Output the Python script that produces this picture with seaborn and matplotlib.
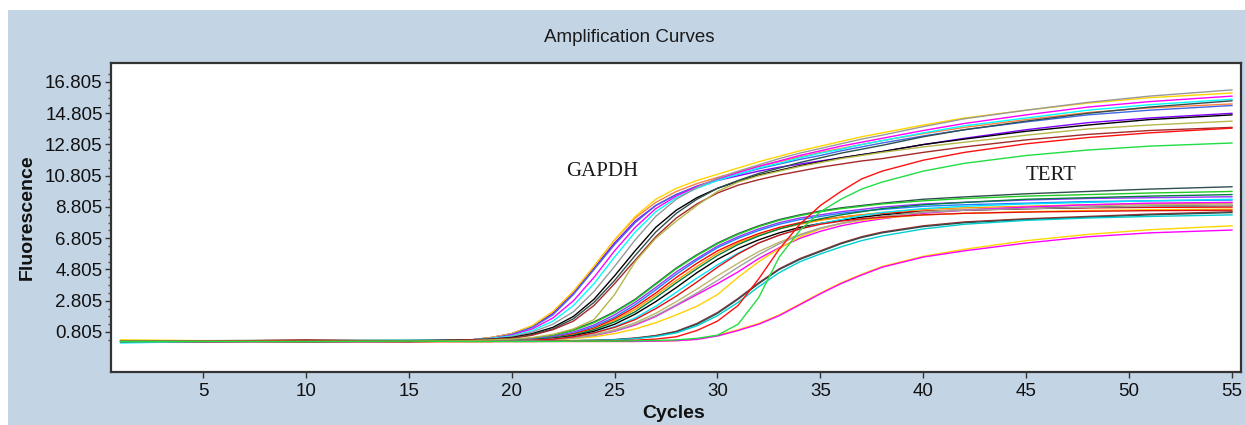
import matplotlib
matplotlib.use("Agg")
import matplotlib.pyplot as plt
from matplotlib.patches import Rectangle
from matplotlib.ticker import FixedLocator
import seaborn as sns
import pandas as pd

# ---------------- data ----------------
CYCLES = [1, 5, 10, 15, 18, 19, 20, 21, 22, 23, 24, 25, 26, 27, 28, 29, 30,
          31, 32, 33, 34, 35, 36, 37, 38, 40, 42, 45, 48, 51, 55]

# GAPDH wells
G_orange = [0.25,0.22,0.2,0.25, 0.3,0.45,0.7,1.2,2.1,3.4,5.0,6.7,8.1,9.1,9.8,10.3,10.7,11.05,11.4,11.7,12.0,12.3,12.55,12.8,13.05,13.5,13.9,14.4,14.85,15.15,15.4]
G_purple = [0.2,0.2,0.22,0.25, 0.3,0.45,0.7,1.15,2.0,3.3,4.9,6.5,7.9,8.9,9.6,10.1,10.5,10.8,11.1,11.35,11.55,11.75,11.95,12.15,12.35,12.8,13.2,13.75,14.2,14.5,14.8]
G_yellow = [0.3,0.25,0.22,0.25, 0.3,0.45,0.7,1.2,2.1,3.4,5.0,6.7,8.2,9.3,10.0,10.5,10.9,11.3,11.7,12.05,12.4,12.7,13.0,13.3,13.55,14.05,14.5,15.0,15.45,15.8,16.1]
G_blue = [0.2,0.25,0.2,0.22, 0.3,0.4,0.65,1.1,1.9,3.2,4.8,6.4,7.8,8.9,9.6,10.15,10.55,10.9,11.25,11.55,11.85,12.1,12.4,12.65,12.9,13.35,13.75,14.25,14.7,15.0,15.3]
G_magenta = [0.22,0.2,0.25,0.2, 0.3,0.4,0.6,1.0,1.7,2.8,4.3,6.0,7.5,8.7,9.5,10.1,10.6,11.0,11.4,11.75,12.1,12.4,12.7,12.95,13.2,13.7,14.15,14.7,15.2,15.55,15.9]
G_cyan = [0.1,0.2,0.25,0.3, 0.3,0.4,0.55,0.9,1.5,2.5,3.9,5.6,7.2,8.5,9.4,10.0,10.5,10.9,11.3,11.6,11.95,12.25,12.5,12.8,13.05,13.55,14.0,14.5,15.0,15.35,15.7]
G_gray = [0.25,0.25,0.3,0.28, 0.3,0.35,0.5,0.8,1.3,2.1,3.4,5.0,6.7,8.2,9.3,10.05,10.65,11.1,11.5,11.9,12.25,12.55,12.85,13.15,13.4,13.95,14.45,15.0,15.5,15.9,16.3]
G_black = [0.2,0.22,0.2,0.22, 0.3,0.35,0.45,0.7,1.1,1.8,2.9,4.4,6.0,7.5,8.6,9.4,10.0,10.45,10.85,11.15,11.45,11.7,11.95,12.15,12.35,12.8,13.15,13.65,14.05,14.4,14.7]
G_dslate = [0.22,0.2,0.22,0.25, 0.3,0.33,0.4,0.65,1.0,1.65,2.7,4.1,5.7,7.2,8.4,9.3,10.0,10.5,10.95,11.3,11.65,11.95,12.25,12.5,12.75,13.3,13.75,14.3,14.8,15.2,15.6]
G_brown = [0.2,0.2,0.3,0.2, 0.3,0.33,0.4,0.6,0.95,1.5,2.5,3.9,5.4,6.9,8.1,9.0,9.7,10.2,10.55,10.85,11.1,11.35,11.55,11.75,11.9,12.3,12.65,13.1,13.45,13.7,13.9]
G_olive = [0.22,0.22,0.2,0.22, 0.25,0.3,0.35,0.45,0.65,1.0,1.6,3.2,5.3,6.8,7.9,8.9,9.8,10.4,10.8,11.1,11.4,11.65,11.9,12.1,12.3,12.65,12.95,13.4,13.8,14.05,14.3]
G_red_late = [0.2,0.2,0.22,0.2, 0.2,0.2,0.2,0.2,0.22,0.22,0.22,0.24,0.28,0.35, 0.5,0.9,1.5,2.5,4.2,6.1,7.7,8.9,9.8,10.6,11.1,11.8,12.3,12.85,13.25,13.55,13.85]
G_green_late = [0.2,0.2,0.2,0.22, 0.2,0.2,0.2,0.2,0.2,0.22,0.22,0.22,0.24,0.26, 0.3,0.4,0.6,1.3,3.0,5.6,7.3,8.5,9.3,9.95,10.4,11.1,11.6,12.1,12.45,12.7,12.9]

# TERT wells
T_dslate = [0.2,0.22,0.2,0.2, 0.25,0.25,0.3,0.4,0.6,0.95,1.45,2.1,2.9,3.9,4.9,5.75,6.5,7.1,7.6,8.0,8.3,8.55,8.75,8.9,9.05,9.3,9.45,9.65,9.8,9.95,10.1]
T_green = [0.25,0.2,0.22,0.2, 0.25,0.25,0.3,0.4,0.55,0.9,1.4,2.05,2.85,3.85,4.85,5.7,6.45,7.05,7.55,7.95,8.25,8.5,8.7,8.85,9.0,9.2,9.35,9.5,9.6,9.7,9.8]
T_purple = [0.2,0.2,0.2,0.22, 0.25,0.25,0.3,0.35,0.5,0.8,1.25,1.9,2.7,3.65,4.65,5.5,6.3,6.9,7.4,7.8,8.1,8.3,8.5,8.65,8.8,9.0,9.1,9.25,9.35,9.4,9.46]
T_blue = [0.2,0.22,0.25,0.22, 0.25,0.25,0.28,0.33,0.45,0.72,1.15,1.75,2.55,3.5,4.5,5.4,6.2,6.8,7.3,7.7,8.0,8.2,8.4,8.55,8.65,8.85,8.95,9.05,9.15,9.2,9.25]
T_red = [0.15,0.2,0.18,0.2, 0.2,0.2,0.25,0.3,0.42,0.68,1.05,1.65,2.4,3.3,4.3,5.2,6.0,6.6,7.1,7.5,7.8,8.0,8.15,8.3,8.4,8.55,8.62,8.7,8.75,8.78,8.8]
T_orange = [0.2,0.2,0.2,0.2, 0.2,0.2,0.25,0.3,0.4,0.62,0.98,1.55,2.25,3.15,4.1,5.0,5.85,6.5,7.0,7.4,7.7,7.95,8.15,8.3,8.45,8.65,8.75,8.85,8.95,9.0,9.05]
T_dgreen = [0.22,0.2,0.2,0.22, 0.25,0.25,0.28,0.32,0.42,0.6,0.95,1.45,2.1,3.0,3.95,4.85,5.7,6.4,6.95,7.4,7.75,8.05,8.3,8.5,8.7,8.95,9.1,9.3,9.4,9.5,9.6]
T_black = [0.2,0.2,0.22,0.2, 0.22,0.22,0.25,0.3,0.38,0.55,0.85,1.3,1.95,2.75,3.65,4.6,5.45,6.15,6.7,7.15,7.5,7.75,7.95,8.15,8.3,8.5,8.6,8.7,8.78,8.85,8.9]
T_cyan = [0.15,0.2,0.2,0.22, 0.25,0.25,0.27,0.3,0.36,0.5,0.75,1.15,1.7,2.45,3.35,4.25,5.1,5.85,6.5,7.0,7.4,7.75,8.0,8.25,8.45,8.7,8.85,9.0,9.1,9.2,9.3]
T_olive = [0.2,0.22,0.2,0.2, 0.22,0.22,0.24,0.27,0.33,0.45,0.65,0.95,1.4,2.0,2.75,3.55,4.4,5.2,5.95,6.55,7.05,7.45,7.75,8.0,8.2,8.5,8.65,8.8,8.9,8.95,9.0]
T_magenta = [0.2,0.2,0.2,0.2, 0.22,0.22,0.24,0.27,0.32,0.42,0.58,0.85,1.25,1.8,2.5,3.2,3.9,4.65,5.5,6.2,6.8,7.25,7.6,7.85,8.05,8.4,8.6,8.8,8.95,9.05,9.1]
T_gold = [0.2,0.2,0.22,0.2, 0.2,0.2,0.22,0.25,0.3,0.38,0.5,0.7,1.0,1.4,1.9,2.45,3.2,4.3,5.3,6.15,6.9,7.4,7.75,7.95,8.1,8.3,8.4,8.5,8.58,8.63,8.67]
T_gray = [0.25,0.22,0.25,0.22, 0.22,0.22,0.24,0.27,0.32,0.42,0.6,0.88,1.3,1.85,2.55,3.3,4.1,4.95,5.75,6.45,7.0,7.45,7.75,8.0,8.2,8.45,8.6,8.7,8.78,8.85,8.9]
T_red2 = [0.2,0.2,0.2,0.2, 0.22,0.22,0.25,0.28,0.35,0.5,0.75,1.1,1.6,2.3,3.1,4.0,4.95,5.8,6.5,7.0,7.4,7.7,7.9,8.05,8.15,8.3,8.4,8.48,8.53,8.57,8.6]
L_brown = [0.2,0.2,0.2,0.2, 0.22,0.22,0.22,0.23,0.24,0.25,0.27,0.32,0.42,0.58,0.85,1.35,2.05,2.95,3.95,4.85,5.5,6.0,6.5,6.9,7.2,7.6,7.85,8.05,8.2,8.35,8.5]
L_dslate = [0.2,0.22,0.2,0.2, 0.22,0.22,0.22,0.23,0.24,0.25,0.27,0.31,0.4,0.55,0.82,1.3,2.0,2.9,3.9,4.8,5.45,5.95,6.45,6.85,7.15,7.55,7.8,8.0,8.15,8.3,8.45]
L_teal = [0.2,0.2,0.2,0.2, 0.22,0.22,0.22,0.23,0.24,0.25,0.27,0.3,0.38,0.52,0.75,1.2,1.85,2.7,3.7,4.6,5.3,5.8,6.25,6.65,6.95,7.4,7.7,7.95,8.1,8.2,8.3]
V_yellow = [0.2,0.2,0.2,0.2, 0.2,0.2,0.2,0.2,0.2,0.2,0.2,0.2,0.2,0.22,0.25,0.35,0.6,0.95,1.35,1.9,2.6,3.3,3.95,4.5,5.0,5.65,6.1,6.65,7.05,7.35,7.6]
V_magenta = [0.2,0.2,0.2,0.2, 0.2,0.2,0.2,0.2,0.2,0.2,0.2,0.2,0.2,0.22,0.25,0.33,0.55,0.9,1.3,1.85,2.55,3.25,3.9,4.45,4.95,5.6,6.0,6.5,6.9,7.15,7.33]

Y_TICKS = [0.805, 2.805, 4.805, 6.805, 8.805, 10.805, 12.805, 14.805, 16.805]
X_TICKS = [5, 10, 15, 20, 25, 30, 35, 40, 45, 50, 55]

WELLS = {
    "T_dslate": T_dslate, "T_green": T_green, "T_purple": T_purple, "T_blue": T_blue,
    "T_red": T_red, "T_orange": T_orange, "T_dgreen": T_dgreen, "T_black": T_black,
    "T_cyan": T_cyan, "T_olive": T_olive, "T_magenta": T_magenta, "T_gold": T_gold,
    "T_gray": T_gray, "T_red2": T_red2, "L_brown": L_brown, "L_dslate": L_dslate,
    "L_teal": L_teal, "V_yellow": V_yellow, "V_magenta": V_magenta,
    "G_orange": G_orange, "G_purple": G_purple, "G_yellow": G_yellow, "G_blue": G_blue,
    "G_magenta": G_magenta, "G_cyan": G_cyan, "G_gray": G_gray, "G_black": G_black,
    "G_dslate": G_dslate, "G_brown": G_brown, "G_olive": G_olive,
    "G_red_late": G_red_late, "G_green_late": G_green_late,
}

COLORS = {
    "T_dslate": "#2F4F4F", "T_green": "#22CC22", "T_purple": "#9933FF", "T_blue": "#1E7FFF",
    "T_red": "#FF0000", "T_orange": "#FF9900", "T_dgreen": "#008040", "T_black": "#000000",
    "T_cyan": "#00E5FF", "T_olive": "#BDB76B", "T_magenta": "#FF00FF", "T_gold": "#FFD000",
    "T_gray": "#A0A0A0", "T_red2": "#E01010", "L_brown": "#A52A2A", "L_dslate": "#2F4F4F",
    "L_teal": "#00CED1", "V_yellow": "#FFD700", "V_magenta": "#FF00FF",
    "G_orange": "#FF8040", "G_purple": "#8000FF", "G_yellow": "#FFD700", "G_blue": "#4169E1",
    "G_magenta": "#FF00FF", "G_cyan": "#00FFFF", "G_gray": "#999999", "G_black": "#000000",
    "G_dslate": "#2F4F4F", "G_brown": "#A52A2A", "G_olive": "#B5B84A",
    "G_red_late": "#FF1010", "G_green_late": "#22DD44",
}

for k, v in WELLS.items():
    assert len(v) == len(CYCLES), (k, len(v))

rows = []
for name, vals in WELLS.items():
    for c, f in zip(CYCLES, vals):
        rows.append((name, c, f))
df = pd.DataFrame(rows, columns=["well", "cycle", "fluorescence"])

# ---------------- figure ----------------
W, H = 1245, 425
fig = plt.figure(figsize=(W / 100, H / 100), dpi=100)
fig.patch.set_facecolor("white")
fig.patches.append(Rectangle((8 / W, 0), 1 - 8 / W, 1 - 10 / H, transform=fig.transFigure,
                             facecolor="#C3D4E5", edgecolor="none", zorder=-10))

plt.rcParams["font.family"] = ["Liberation Sans", "DejaVu Sans"]

L, R, T, B = 111, 1241, 63, 372
ax = fig.add_axes([L / W, 1 - B / H, (R - L) / W, (B - T) / H])
ax.set_facecolor("white")

sns.lineplot(data=df, x="cycle", y="fluorescence", hue="well", palette=COLORS,
             legend=False, ax=ax, linewidth=1.0, estimator=None)

ax.set_xlim(0.53, 55.44)
ax.set_ylim(-1.755, 18.02)
ax.xaxis.set_major_locator(FixedLocator(X_TICKS))
ax.yaxis.set_major_locator(FixedLocator(Y_TICKS))
ax.yaxis.set_minor_locator(FixedLocator([0.305 + 0.5 * i for i in range(35) if (0.305 + 0.5 * i) < 17.5]))
ax.set_xticklabels([str(t) for t in X_TICKS])
ax.set_yticklabels([f"{t:.3f}" for t in Y_TICKS])
ax.tick_params(axis="both", which="major", labelsize=13.5, length=4, width=1, color="#333333",
               labelcolor="#111111")
ax.tick_params(axis="y", which="major", pad=2)
ax.tick_params(axis="x", which="major", pad=4)
ax.tick_params(axis="y", which="minor", length=2.5, width=1, color="#555555")
for s in ax.spines.values():
    s.set_color("#333333")
    s.set_linewidth(1.6)
ax.grid(False)

ax.set_xlabel("Cycles", fontsize=14, fontweight="bold", color="#111111", va="center")
ax.set_ylabel("Fluorescence", fontsize=14, fontweight="bold", color="#111111", va="center",
              ha="center")
ax.xaxis.set_label_coords((674 - L) / (R - L), (B - 413) / (B - T))
ax.yaxis.set_label_coords((27 - L) / (R - L), (B - 217) / (B - T))

ax.text(24.39, 11.1, "GAPDH", family=["Liberation Serif", "DejaVu Serif"], fontsize=15,
        ha="center", va="center", color="#1a1a1a")
ax.text(46.2, 10.85, "TERT", family=["Liberation Serif", "DejaVu Serif"], fontsize=15,
        ha="center", va="center", color="#1a1a1a")

fig.text(629 / W, 1 - 38 / H, "Amplification Curves", ha="center", va="center",
         fontsize=13.5, color="#1a1a1a")

fig.savefig("out.png", dpi=100)
